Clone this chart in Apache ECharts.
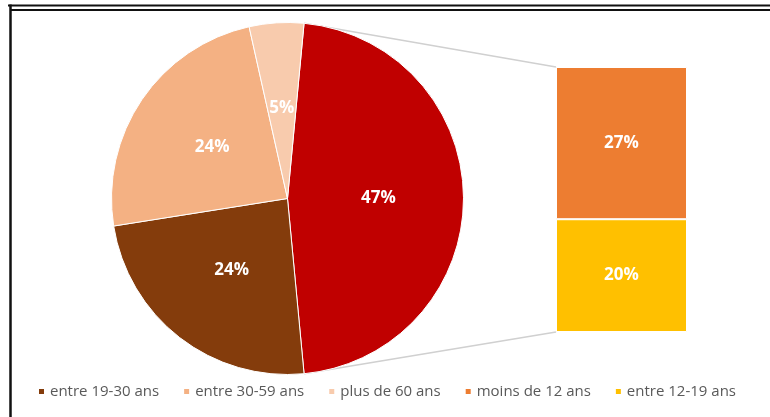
<!DOCTYPE html>
<html>
<head>
<meta charset="utf-8">
<script src="https://cdn.jsdelivr.net/npm/echarts@6/dist/echarts.min.js"></script>
<style>
  html, body { margin: 0; padding: 0; background: #ffffff; }
  #chart { width: 770px; height: 417px; }
</style>
</head>
<body>
<div id="chart"></div>
<script>
// Age groups drawn as pie slices
const pieNames = ['entre 19-30 ans', 'entre 30-59 ans', 'plus de 60 ans'];
const pieValues = [24, 24, 5];

// Age groups broken out in the stacked bar; together they form the large slice
const barNames = ['moins de 12 ans', 'entre 12-19 ans'];
const barValues = [27, 20];

const pieColors = ['#843C0C', '#F4B183', '#F8CBAD'];
const otherColor = '#C00000';
const barColors = ['#ED7D31', '#FFC000'];

const otherValue = barValues.reduce((a, b) => a + b, 0);
const pieTotal = otherValue + pieValues.reduce((a, b) => a + b, 0);

// Pie geometry
const cx = 287.5, cy = 198.5, R = 176;
// The broken-out slice is centred on the 3 o'clock direction
const halfSweep = otherValue / pieTotal * 180;

// Bar geometry
const gridLeft = 556, gridTop = 67, gridWidth = 131, gridHeight = 265;

const labelFont = { color: '#ffffff', fontFamily: 'Open Sans', fontWeight: 'bold', fontSize: 17 };

const pieData = [{ name: 'autres', value: otherValue, itemStyle: { color: otherColor } }]
  .concat(pieNames.map((n, i) => ({ name: n, value: pieValues[i], itemStyle: { color: pieColors[i] } })));

// Stack from the bottom up: last bar entry sits at the bottom
const barSeries = barNames.map((n, i) => ({
  type: 'bar',
  name: n,
  stack: 'detail',
  data: [barValues[i]],
  barWidth: '100%',
  itemStyle: { color: barColors[i], borderColor: '#ffffff', borderWidth: 1 },
  label: Object.assign({ show: true, position: 'inside', formatter: '{c}%' }, labelFont),
  emphasis: { disabled: true }
})).reverse();

const frame = [
  { type: 'line', id: 'frameTop', shape: { x1: 8, y1: 5.5, x2: 770, y2: 5.5 }, style: { stroke: '#111', lineWidth: 2 } },
  { type: 'line', id: 'frameInner', shape: { x1: 11, y1: 10, x2: 770, y2: 10 }, style: { stroke: '#111', lineWidth: 2 } },
  { type: 'line', id: 'frameLeft', shape: { x1: 10.5, y1: 4.5, x2: 10.5, y2: 417 }, style: { stroke: '#111', lineWidth: 2.5 } }
];

const option = {
  animation: false,
  backgroundColor: '#ffffff',
  legend: {
    data: pieNames.concat(barNames),
    left: 37,
    top: 384,
    padding: 0,
    icon: 'rect',
    itemWidth: 7,
    itemHeight: 7,
    itemGap: 23,
    selectedMode: false,
    textStyle: { color: '#595959', fontFamily: 'Open Sans', fontSize: 15 }
  },
  grid: { left: gridLeft, top: gridTop, width: gridWidth, height: gridHeight, containLabel: false },
  xAxis: { type: 'category', data: [''], show: false },
  yAxis: { type: 'value', min: 0, max: otherValue, show: false, splitLine: { show: false } },
  series: [
    {
      type: 'pie',
      center: [cx, cy],
      radius: [0, R],
      startAngle: halfSweep,
      clockwise: true,
      data: pieData,
      itemStyle: { borderColor: '#ffffff', borderWidth: 1 },
      label: Object.assign({ show: true, position: 'inside', formatter: '{c}%' }, labelFont),
      labelLine: { show: false },
      emphasis: { disabled: true }
    }
  ].concat(barSeries),
  graphic: frame
};

const chart = echarts.init(document.getElementById('chart'), null, { renderer: 'canvas' });
chart.setOption(option);

// Connector lines from the edges of the large slice to the bar corners
const rad = halfSweep * Math.PI / 180;
const pTop = [cx + R * Math.cos(rad), cy - R * Math.sin(rad)];
const pBottom = [cx + R * Math.cos(rad), cy + R * Math.sin(rad)];
const barTopY = chart.convertToPixel({ yAxisIndex: 0 }, otherValue);
const barBottomY = chart.convertToPixel({ yAxisIndex: 0 }, 0);

chart.setOption({
  graphic: frame.concat([
    { type: 'line', id: 'connTop', z: -1, shape: { x1: pTop[0], y1: pTop[1], x2: gridLeft, y2: barTopY }, style: { stroke: '#d0d0d0', lineWidth: 1.5 } },
    { type: 'line', id: 'connBottom', z: -1, shape: { x1: pBottom[0], y1: pBottom[1], x2: gridLeft, y2: barBottomY }, style: { stroke: '#d0d0d0', lineWidth: 1.5 } }
  ])
});
</script>
</body>
</html>
